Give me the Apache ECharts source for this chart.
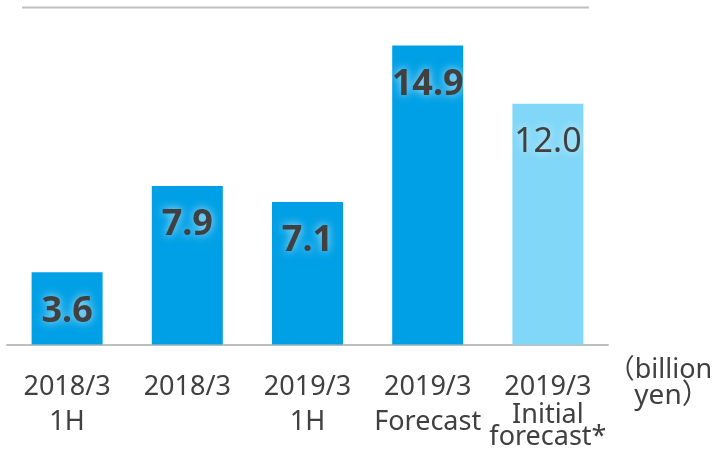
<!DOCTYPE html>
<html>
<head>
<meta charset="utf-8">
<script src="https://cdn.jsdelivr.net/npm/echarts@6/dist/echarts.min.js"></script>
<style>
  html, body { margin: 0; padding: 0; background: #fff; overflow: hidden; }
  #chart { width: 717px; height: 451px; }
</style>
</head>
<body>
<div id="chart"></div>
<script>
// Period labels (each entry is one line of the axis label)
const categories = [
  ['2018/3', '1H'],
  ['2018/3'],
  ['2019/3', '1H'],
  ['2019/3', 'Forecast'],
  ['2019/3', 'Initial', 'forecast*']
];
// Values in billion yen
const values = [3.6, 7.9, 7.1, 14.9, 12.0];
// Which bars are the initial forecast (drawn lighter, value label not bold)
const isInitialForecast = [false, false, false, false, true];
const unitLines = ['（billion', 'yen）'];

const FONT = '"Noto Sans", "Noto Sans CJK JP", sans-serif';
const DARK_BLUE = '#00a0e6';
const LIGHT_BLUE = '#80d7f7';
const TEXT = '#404040';

const barData = values.map((v, i) => ({
  value: v,
  itemStyle: { color: isInitialForecast[i] ? LIGHT_BLUE : DARK_BLUE },
  label: isInitialForecast[i]
    ? { fontWeight: 'normal', fontSize: 34 }
    : { fontWeight: 'bold', fontSize: 36 }
}));

const chart = echarts.init(document.getElementById('chart'), null, { renderer: 'canvas' });

chart.setOption({
  animation: false,
  backgroundColor: '#fff',
  // plot area fixed from the top so the baseline sits at y = 349
  grid: { left: 7, width: 601, top: 7.5, height: 341.5, containLabel: false },
  xAxis: {
    type: 'category',
    data: categories.map(c => c.join('\n')),
    axisLine: { show: true, lineStyle: { color: '#bfbfbf', width: 2 } },
    axisTick: { show: false },
    axisLabel: {
      interval: 0,
      margin: 25,
      color: TEXT,
      fontFamily: FONT,
      fontSize: 27,
      formatter: function (val) {
        const lines = val.split('\n');
        if (lines.length > 2) {
          return lines.map((l, i) => (i === 0 ? '{h|' : '{s|') + l + '}').join('\n');
        }
        return lines.map(l => '{h|' + l + '}').join('\n');
      },
      rich: {
        h: { fontFamily: FONT, fontSize: 27, color: TEXT, lineHeight: 35 },
        s: { fontFamily: FONT, fontSize: 27, color: TEXT, lineHeight: 22 }
      }
    }
  },
  yAxis: {
    type: 'value',
    min: 0,
    max: 16.8,
    show: false,
    splitLine: { show: false }
  },
  series: [{
    type: 'bar',
    data: barData,
    barWidth: 71,
    label: {
      show: true,
      position: ['50%', 39],
      align: 'center',
      verticalAlign: 'middle',
      color: TEXT,
      fontFamily: FONT,
      formatter: p => p.value.toFixed(1),
      textShadowColor: 'rgba(255,255,255,0.75)',
      textShadowBlur: 10
    }
  }],
  graphic: [
    {
      type: 'line',
      shape: { x1: 22, y1: 7.5, x2: 589, y2: 7.5 },
      style: { stroke: '#c0c0c0', lineWidth: 2 },
      silent: true
    },
    {
      type: 'text',
      x: 660,
      y: 370,
      style: {
        text: unitLines[0],
        fill: TEXT,
        font: '27px ' + FONT,
        align: 'center',
        verticalAlign: 'middle'
      }
    },
    {
      type: 'text',
      x: 672,
      y: 396,
      style: {
        text: unitLines[1],
        fill: TEXT,
        font: '28px ' + FONT,
        align: 'center',
        verticalAlign: 'middle'
      }
    }
  ]
});
</script>
</body>
</html>
